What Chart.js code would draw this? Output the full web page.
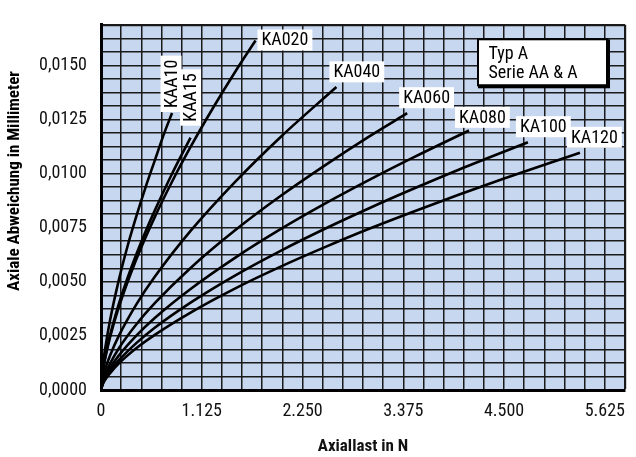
<!DOCTYPE html>
<html><head><meta charset="utf-8">
<script src="https://cdn.jsdelivr.net/npm/chart.js@4.4.1/dist/chart.umd.min.js"></script>
<style>html,body{margin:0;padding:0;background:#fff;}#wrap{width:636px;height:457px;}</style>
</head><body><div id="wrap"><canvas id="c" width="636" height="457"></canvas></div>
<script>
// ---- data ----
const seriesNames = ['KAA10','KAA15','KA020','KA040','KA060','KA080','KA100','KA120'];
const xTickLabels = ['0','1.125','2.250','3.375','4.500','5.625'];
const yTickLabels = ['0,0000','0,0025','0,0050','0,0075','0,0100','0,0125','0,0150'];
const xTitle = 'Axiallast in N';
const yTitle = 'Axiale Abweichung in Millimeter';
const boxLines = ['Typ A','Serie AA & A'];

const xKAA10 = [0, 20, 50, 100, 200, 300, 400, 500, 600, 700, 793];
const yKAA10 = [0, 0.0011, 0.0020, 0.0032, 0.0051, 0.0067, 0.0081, 0.0094, 0.0106, 0.0118, 0.0128];
const xKAA15 = [0, 20, 50, 100, 200, 300, 400, 500, 600, 800, 1000];
const yKAA15 = [0, 0.00086, 0.00158, 0.00251, 0.00399, 0.00522, 0.00633, 0.00735, 0.00829, 0.01005, 0.01166];
const xKA020 = [0, 20, 50, 100, 200, 400, 600, 800, 1000, 1250, 1500, 1725];
const yKA020 = [0, 0.00083, 0.00152, 0.00242, 0.00384, 0.0061, 0.00799, 0.00968, 0.01123, 0.01303, 0.01472, 0.01615];
const xKA040 = [0, 20, 50, 100, 200, 400, 600, 1000, 1500, 2000, 2628];
const yKA040 = [0, 0.00054, 0.0010, 0.00158, 0.00251, 0.00399, 0.00523, 0.00735, 0.00963, 0.01167, 0.0140];
const xKA060 = [0, 20, 50, 100, 200, 400, 600, 1000, 1500, 2000, 2500, 3000, 3418];
const yKA060 = [0, 0.00042, 0.00076, 0.00121, 0.00193, 0.00306, 0.00401, 0.00564, 0.00739, 0.00895, 0.01038, 0.01173, 0.01279];
const xKA080 = [0, 20, 50, 100, 200, 400, 600, 1000, 1500, 2000, 2500, 3000, 3500, 4108];
const yKA080 = [0, 0.00034, 0.00063, 0.00101, 0.0016, 0.00254, 0.00333, 0.00467, 0.00612, 0.00742, 0.00861, 0.00972, 0.01077, 0.01199];
const xKA100 = [0, 20, 50, 100, 200, 400, 600, 1000, 1500, 2000, 2500, 3000, 3500, 4000, 4766];
const yKA100 = [0, 0.0003, 0.00055, 0.00087, 0.00138, 0.00219, 0.00288, 0.00404, 0.0053, 0.00642, 0.00745, 0.00841, 0.00932, 0.01019, 0.01145];
const xKA120 = [0, 20, 50, 100, 200, 400, 600, 1000, 1500, 2000, 2500, 3000, 3500, 4000, 4500, 5000, 5347];
const yKA120 = [0, 0.00026, 0.00049, 0.00077, 0.00123, 0.00195, 0.00255, 0.00358, 0.0047, 0.00569, 0.0066, 0.00746, 0.00826, 0.00903, 0.00977, 0.01048, 0.01096];

const xMax = 5850, xStep = 225, yMax = 0.016875, yStep = 0.000625;

// ---- styles / label placement (not data) ----
const FONT = "'Liberation Sans Narrow','Arial Narrow','Roboto Condensed',Roboto,'Liberation Sans',sans-serif";
const labelStyle = {
  KAA10: {rot: true, dx: -1, dy: -1},
  KAA15: {rot: true, dx: 0, dy: -12},
  KA020: {rot: false, dx: 2, dy: 10},
  KA040: {rot: false, dx: -7, dy: -4.7},
  KA060: {rot: false, dx: -8, dy: -5},
  KA080: {rot: false, dx: -14, dy: -2.7},
  KA100: {rot: false, dx: -12, dy: -5},
  KA120: {rot: false, dx: -13, dy: -5}
};

const xs = [xKAA10,xKAA15,xKA020,xKA040,xKA060,xKA080,xKA100,xKA120];
const ys = [yKAA10,yKAA15,yKA020,yKA040,yKA060,yKA080,yKA100,yKA120];

const datasets = seriesNames.map((n, i) => ({
  label: n,
  data: xs[i].map((x, j) => ({x: x, y: ys[i][j]})),
  borderColor: '#000',
  borderWidth: 2.6,
  pointRadius: 0,
  fill: false,
  cubicInterpolationMode: 'monotone'
}));

const decor = {
  id: 'decor',
  beforeDraw(chart) {
    const {ctx, chartArea: a} = chart;
    ctx.save();
    ctx.fillStyle = '#c8d7f0';
    ctx.fillRect(a.left, a.top, a.right - a.left, a.bottom - a.top);
    ctx.restore();
  },
  afterDraw(chart) {
    const {ctx, chartArea: a} = chart;
    ctx.save();
    // series labels
    ctx.font = "18px " + FONT;
    chart.data.datasets.forEach((ds, i) => {
      const meta = chart.getDatasetMeta(i);
      const p = meta.data[meta.data.length - 1];
      const st = labelStyle[ds.label];
      const tw = ctx.measureText(ds.label).width;
      const w = tw + 8, h = 21;
      ctx.save();
      if (st.rot) {
        ctx.translate(p.x + st.dx, p.y + st.dy);
        ctx.rotate(-Math.PI / 2);
        ctx.fillStyle = '#fff';
        ctx.fillRect(0, -h / 2, w, h);
        ctx.fillStyle = '#000';
        ctx.textBaseline = 'middle';
        ctx.textAlign = 'left';
        ctx.fillText(ds.label, 4, 1);
      } else {
        const bx = p.x + st.dx, by = p.y + st.dy - h;
        ctx.fillStyle = '#fff';
        ctx.fillRect(bx, by, w, h);
        ctx.fillStyle = '#000';
        ctx.textBaseline = 'middle';
        ctx.textAlign = 'left';
        ctx.fillText(ds.label, bx + 4, by + h / 2 + 1);
      }
      ctx.restore();
    });
    // info box
    const bx = a.right - 148, by = a.top + 13.5, bw = 131, bh = 48;
    ctx.fillStyle = '#000';
    ctx.fillRect(bx + 1, by + 1, bw + 1, bh + 1);
    ctx.fillStyle = '#fff';
    ctx.fillRect(bx + 1.5, by + 1.5, bw - 3, bh - 3);
    ctx.strokeStyle = '#000';
    ctx.lineWidth = 2;
    ctx.strokeRect(bx + 1, by + 1, bw - 2, bh - 2);
    ctx.fillStyle = '#000';
    ctx.font = "18px " + FONT;
    ctx.textBaseline = 'alphabetic';
    ctx.textAlign = 'left';
    ctx.fillText(boxLines[0], bx + 11.5, by + 21);
    ctx.fillText(boxLines[1], bx + 11.5, by + 40);
    // y title
    ctx.save();
    ctx.translate(15, 181);
    ctx.rotate(-Math.PI / 2);
    ctx.font = "bold 17px " + FONT;
    ctx.textAlign = 'center';
    ctx.textBaseline = 'middle';
    ctx.fillText(yTitle, 0, 0);
    ctx.restore();
    ctx.restore();
  }
};

new Chart(document.getElementById('c'), {
  type: 'line',
  data: {datasets},
  options: {
    responsive: false,
    animation: false,
    devicePixelRatio: 1,
    layout: {padding: {top: 6, right: 1, left: 0, bottom: 0}},
    plugins: {legend: {display: false}, tooltip: {enabled: false}},
    scales: {
      x: {
        type: 'linear', min: 0, max: xMax,
        ticks: {
          stepSize: xStep, autoSkip: false, maxRotation: 0, padding: 11,
          color: '#111', font: {family: FONT, size: 18},
          callback: (v, i) => (i % 5 === 0 && xTickLabels[i / 5] !== undefined) ? xTickLabels[i / 5] : ''
        },
        grid: {color: '#1a1a1a', lineWidth: (c) => c.index === 26 ? 2.2 : 1.5, drawTicks: false},
        border: {display: true, color: '#000', width: 3},
        title: {display: true, text: xTitle, color: '#111', font: {family: FONT, size: 17, weight: 'bold'}, padding: {top: 0, bottom: 0}},
        afterFit: (s) => { s.height = 67; }
      },
      y: {
        type: 'linear', min: 0, max: yMax,
        ticks: {
          stepSize: yStep, autoSkip: false, padding: 14,
          color: '#111', font: {family: FONT, size: 18},
          callback: (v, i) => (i % 4 === 0 && yTickLabels[i / 4] !== undefined) ? yTickLabels[i / 4] : ''
        },
        grid: {color: '#1a1a1a', lineWidth: (c) => c.index === 27 ? 2.2 : 1.5, drawTicks: false},
        border: {display: true, color: '#000', width: 3},
        afterFit: (s) => { s.width = 101; }
      }
    }
  },
  plugins: [decor]
});
</script></body></html>
